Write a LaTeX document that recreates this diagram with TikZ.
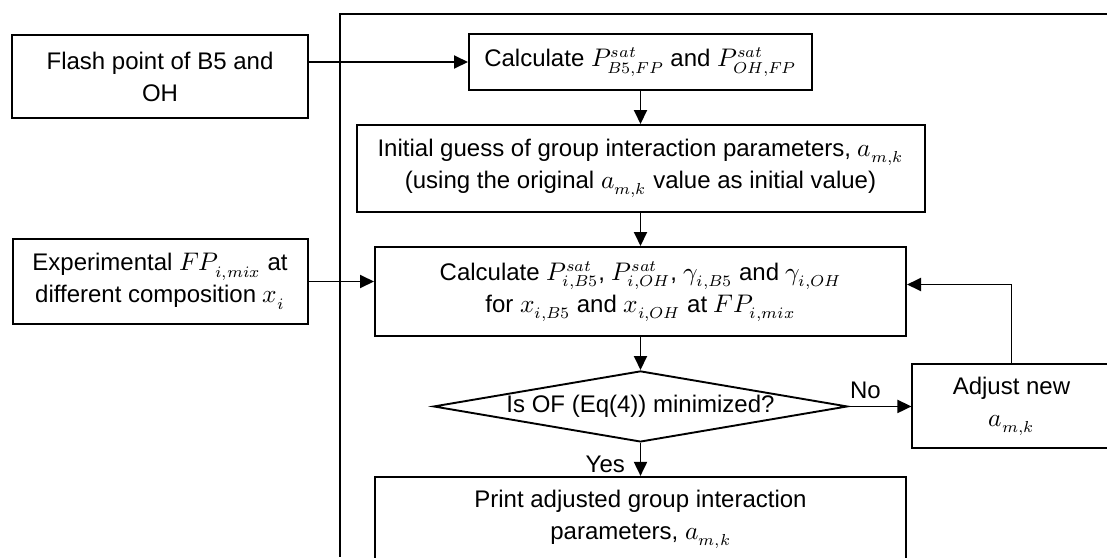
\documentclass[tikz,border=0pt]{standalone}
\usepackage{fontspec}
\usepackage{unicode-math}
\setmainfont{Liberation Sans}
\setmathfont{Latin Modern Math}[Scale=1.06]
\DeclareMathSizes{12}{12}{7.5}{6}
\usetikzlibrary{arrows.meta,positioning,shapes.geometric}

\begin{document}
\begin{tikzpicture}[x=0.5pt,y=-0.5pt,->,>={Triangle[length=7pt,width=6.5pt]},line width=0.95pt,
  node distance=16.5pt,font=\fontsize{12}{16}\selectfont]
  \tikzstyle{block}=[draw=black,rectangle,align=center,inner sep=2pt,line width=1pt]
  \tikzstyle{decision}=[draw=black,diamond,aspect=5.8,inner sep=0pt,line width=0.95pt]

  \useasboundingbox (0,0) rectangle (1107,557);
  % frame round the iteration loop
  \draw[-] (1107,14) -- (340,14) -- (340,557);

  \node[block,minimum width=171.5pt,minimum height=28pt] (calc) at (640.5,62)
    {Calculate $P^{sat}_{B5,FP}$ and $P^{sat}_{OH,FP}$};
  \node[block,minimum width=284pt,minimum height=43.5pt] (guess) [below=of calc]
    {Initial guess of group interaction parameters, $a_{m,k}$\\(using the original $a_{m,k}$ value as initial value)};
  \node[block,minimum width=265.5pt,minimum height=44.5pt] (calcmix) [below=of guess]
    {Calculate $P^{sat}_{i,B5}$, $P^{sat}_{i,OH}$, $\gamma_{i,B5}$ and $\gamma_{i,OH}$\\for $x_{i,B5}$ and $x_{i,OH}$ at $FP_{i,mix}$};
  \node[decision,minimum width=207pt,minimum height=35.5pt] (minof) [below=of calcmix]
    {Is OF (Eq(4)) minimized?};
  \node[block,minimum width=265.5pt,minimum height=42.5pt] (print) [below=of minof]
    {Print adjusted group interaction\\parameters, $a_{m,k}$};
  \node[block,minimum width=99pt,minimum height=42pt] (adjust) [right=31.5pt of minof]
    {Adjust new\\$a_{m,k}$};
  \node[block,minimum width=148pt,minimum height=41.5pt] (flash) at (160,76.5)
    {Flash point of B5 and\\OH};
  \node[block,minimum width=147.5pt,minimum height=42.5pt] (expfp) at (160,281.5)
    {Experimental $FP_{i,mix}$ at\\different composition $x_i$};

  \path
  (calc) edge (guess)
  (guess) edge (calcmix)
  (calcmix) edge (minof)
  (minof) edge node[left=4pt,pos=0.65] {Yes} (print)
  (minof) edge node[above,pos=0.27] {No} (adjust);

  \draw (adjust) |- ([yshift=3.5pt]calcmix.east);
  \draw (flash.east |- calc.west) -- (calc);
  \draw (expfp) -- (expfp -| calcmix.west);
\end{tikzpicture}
\end{document}
